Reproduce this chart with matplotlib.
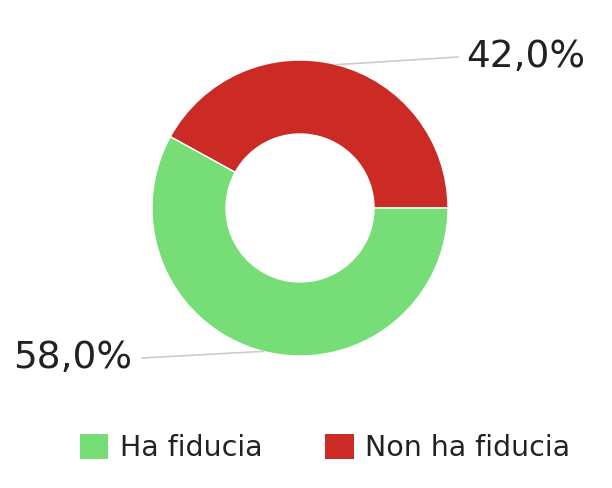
import numpy as np
import matplotlib.pyplot as plt
from matplotlib.patches import Patch

labels = ["Non ha fiducia", "Ha fiducia"]
values = [42.0, 58.0]
pct_text = ["42,0%", "58,0%"]
colors = ["#CC2B25", "#77DD77"]

fig = plt.figure(figsize=(6.12, 4.88), dpi=100)
ax = fig.add_axes([0, 0, 1, 1])

cx, cy, R = 300, 208, 148
wedges, _ = ax.pie(values, colors=colors, startangle=0, counterclock=False,
                   center=(cx, cy), radius=R, frame=True,
                   wedgeprops=dict(width=R - 74, edgecolor="white", linewidth=1))
ax.set_xlim(0, 612)
ax.set_ylim(488, 0)
ax.set_aspect("equal")
ax.axis("off")

# leader lines + labels (y axis is flipped, so angles read clockwise on screen)
text_pos = [(466, 57), (132, 358)]
for w, t, (tx, ty) in zip(wedges, pct_text, text_pos):
    mid = np.deg2rad((w.theta1 + w.theta2) / 2)
    px, py = cx + R * np.cos(mid), cy + R * np.sin(mid)
    if tx > cx:
        ax.plot([px, tx - 8], [py, ty], color="#CCCCCC", lw=1.2)
        ax.text(tx, ty, t, ha="left", va="center", fontsize=27, color="#222222")
    else:
        ax.plot([px, tx + 10], [py, ty], color="#CCCCCC", lw=1.2)
        ax.text(tx, ty, t, ha="right", va="center", fontsize=27, color="#222222")

handles = [Patch(facecolor=colors[1], label=labels[1]),
           Patch(facecolor=colors[0], label=labels[0])]
fig.legend(handles=handles, loc="center", bbox_to_anchor=(0.531, 0.082), ncol=2,
           frameon=False, fontsize=20.5, handlelength=1.0, handleheight=1.0,
           handletextpad=0.4, columnspacing=2.2, labelcolor="#222222")

fig.savefig("out.png", dpi=100)
